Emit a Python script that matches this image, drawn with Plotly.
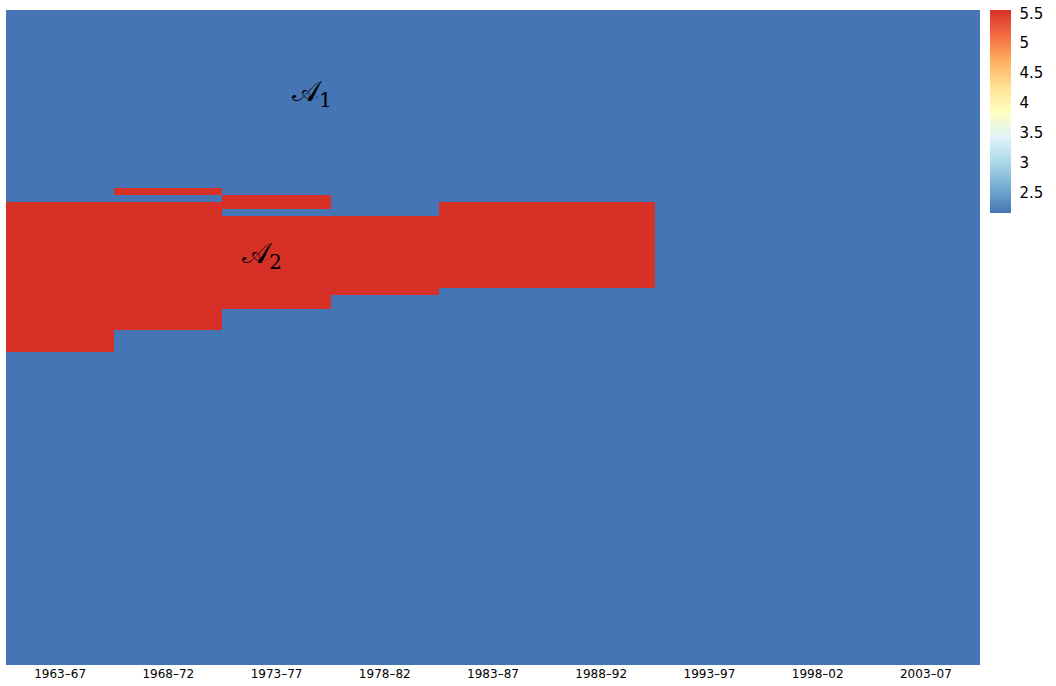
import plotly.graph_objects as go

# Five-year periods along the horizontal axis
periods = ["1963–67", "1968–72", "1973–77", "1978–82", "1983–87",
           "1988–92", "1993–97", "1998–02", "2003–07"]

# Number of rows in the grid (row 0 at the top)
n_rows = 92

# Cell levels: background and high region
low_value = 2.16
high_value = 5.555

# High-valued row ranges [start, end) for each period
high_spans = {
    "1963–67": [(27, 48)],
    "1968–72": [(25, 26), (27, 45)],
    "1973–77": [(26, 28), (29, 42)],
    "1978–82": [(29, 40)],
    "1983–87": [(27, 39)],
    "1988–92": [(27, 39)],
    "1993–97": [],
    "1998–02": [],
    "2003–07": [],
}

rows = list(range(n_rows))
z = [[low_value for _ in periods] for _ in rows]
for j, p in enumerate(periods):
    for a, b in high_spans[p]:
        for r in range(a, b):
            z[r][j] = high_value

# RdYlBu (9 classes), blue at the low end
colorscale = [
    [0.0, "#4575b4"], [0.125, "#74add1"], [0.25, "#abd9e9"],
    [0.375, "#e0f3f8"], [0.5, "#ffffbf"], [0.625, "#fee090"],
    [0.75, "#fdae61"], [0.875, "#f46d43"], [1.0, "#d73027"],
]

fig = go.Figure(go.Heatmap(
    x=periods, y=rows, z=z,
    zmin=low_value, zmax=high_value,
    colorscale=colorscale,
    colorbar=dict(
        thickness=21, thicknessmode="pixels",
        len=203, lenmode="pixels",
        x=1.0103, xanchor="left", xpad=0,
        y=1, yanchor="top", ypad=0,
        outlinewidth=0,
        tickvals=[2.5, 3, 3.5, 4, 4.5, 5, 5.5],
        ticktext=["2.5", "3", "3.5", "4", "4.5", "5", "5.5"],
        ticks="outside", ticklen=6, tickcolor="rgba(0,0,0,0)",
        tickfont=dict(family="DejaVu Sans", size=15, color="black"),
    ),
))

# Region labels
fig.add_annotation(x=2.33, y=11.2, xref="x", yref="y",
                   text="𝒜<sub>1</sub>", showarrow=False,
                   font=dict(family="DejaVu Serif, serif", size=29, color="black"))
fig.add_annotation(x=1.87, y=33.9, xref="x", yref="y",
                   text="𝒜<sub>2</sub>", showarrow=False,
                   font=dict(family="DejaVu Serif, serif", size=29, color="black"))

fig.update_xaxes(showgrid=False, zeroline=False, ticks="", showline=False,
                 tickfont=dict(family="DejaVu Sans", size=12, color="black"),
                 ticklabelstandoff=0)
fig.update_yaxes(autorange="reversed", showticklabels=False, showgrid=False,
                 zeroline=False, ticks="", showline=False)

fig.update_layout(
    width=1056, height=686,
    margin=dict(l=6, r=76, t=10, b=21),
    plot_bgcolor="white", paper_bgcolor="white",
)

fig.write_html("out.html")
